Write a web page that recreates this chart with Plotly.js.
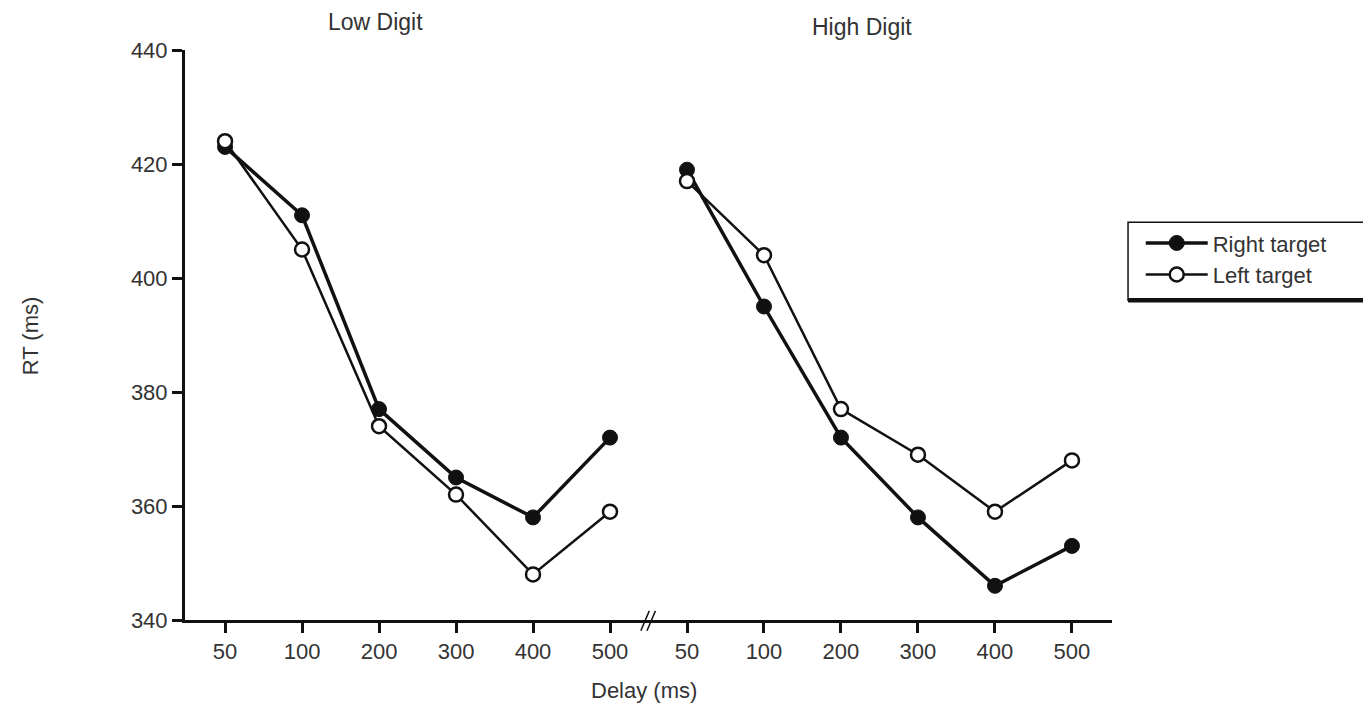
<!DOCTYPE html>
<html>
<head>
<meta charset="utf-8">
<script src="https://cdn.plot.ly/plotly-3.0.1.min.js"></script>
<style>html,body{margin:0;padding:0;background:#fff;}#chart{width:1363px;height:708px;}</style>
</head>
<body>
<div id="chart"></div>
<script>
// ---- data ----
const delays = ['50', '100', '200', '300', '400', '500'];
const panels = ['Low Digit', 'High Digit'];
const seriesNames = ['Right target', 'Left target'];
const lowRight  = [423, 411, 377, 365, 358, 372];
const lowLeft   = [424, 405, 374, 362, 348, 359];
const highRight = [419, 395, 372, 358, 346, 353];
const highLeft  = [417, 404, 377, 369, 359, 368];
const yTicks = [340, 360, 380, 400, 420, 440];

// ---- build ----
const n = delays.length;
const pos = g => delays.map((d, i) => g * n + i);
const FONT = 'Liberation Sans, Arial, Helvetica, sans-serif';
const INK = '#111';
const TXT = '#333';

const styles = [
  {line: {color: INK, width: 3.5}, marker: {size: 15, color: INK, line: {color: INK, width: 1}}},
  {line: {color: INK, width: 2.5}, marker: {size: 14, color: '#fff', line: {color: INK, width: 2.5}}}
];
const groups = [[lowRight, lowLeft], [highRight, highLeft]];
const traces = [];
groups.forEach((pair, g) => {
  pair.forEach((vals, s) => {
    traces.push({
      x: pos(g), y: vals, type: 'scatter', mode: 'lines+markers',
      name: seriesNames[s], legendgroup: seriesNames[s], showlegend: g === 0,
      line: styles[s].line, marker: Object.assign({symbol: 'circle'}, styles[s].marker),
      cliponaxis: false
    });
  });
});

const tickvals = [].concat(pos(0), pos(1));
const ticktext = [].concat(delays, delays);
const brk = n - 0.5;

const layout = {
  width: 1363, height: 708,
  margin: {l: 185, r: 251, t: 50, b: 88},
  paper_bgcolor: '#fff', plot_bgcolor: '#fff',
  font: {family: FONT, size: 22, color: TXT},
  showlegend: true,
  xaxis: {
    range: [-0.52, 2 * n - 0.48], tickvals: tickvals, ticktext: ticktext,
    showgrid: false, zeroline: false, showline: true, linecolor: INK, linewidth: 3,
    ticks: 'outside', ticklen: 10, tickwidth: 3, tickcolor: INK,
    tickfont: {size: 22, color: TXT}, fixedrange: true
  },
  yaxis: {
    range: [yTicks[0], yTicks[yTicks.length - 1]], tickvals: yTicks,
    showgrid: false, zeroline: false, showline: true, linecolor: INK, linewidth: 3,
    ticks: 'outside', ticklen: 10, tickwidth: 3, tickcolor: INK,
    tickfont: {size: 22, color: TXT}, fixedrange: true
  },
  legend: {
    x: 1.031, y: 0.698, xanchor: 'left', yanchor: 'top',
    borderwidth: 0, bgcolor: 'rgba(0,0,0,0)',
    font: {size: 22, color: TXT}, itemwidth: 62, tracegroupgap: 0
  },
  annotations: [
    {text: panels[0], xref: 'x', yref: 'paper', x: 1.95, y: 1.049, showarrow: false, font: {size: 23, color: TXT}, xanchor: 'center', yanchor: 'middle'},
    {text: panels[1], xref: 'x', yref: 'paper', x: 8.27, y: 1.040, showarrow: false, font: {size: 23, color: TXT}, xanchor: 'center', yanchor: 'middle'},
    {text: 'RT (ms)', xref: 'paper', yref: 'paper', x: -0.167, y: 0.498, textangle: -90, showarrow: false, font: {size: 22, color: TXT}, xanchor: 'center', yanchor: 'middle'},
    {text: 'Delay (ms)', xref: 'paper', yref: 'paper', x: 0.495, y: -0.124, showarrow: false, font: {size: 22, color: TXT}, xanchor: 'center', yanchor: 'middle'}
  ],
  shapes: [
    {type: 'line', xref: 'x', yref: 'paper', x0: brk - 0.10, x1: brk + 0.01, y0: -0.019, y1: 0.016, line: {color: INK, width: 1.5}},
    {type: 'line', xref: 'x', yref: 'paper', x0: brk - 0.02, x1: brk + 0.09, y0: -0.019, y1: 0.016, line: {color: INK, width: 1.5}},
    {type: 'rect', xref: 'paper', yref: 'paper', x0: 1.0173, x1: 1.32, y0: 0.561, y1: 0.698, line: {color: INK, width: 1.5}, fillcolor: 'rgba(0,0,0,0)'},
    {type: 'line', xref: 'paper', yref: 'paper', x0: 1.0173, x1: 1.32, y0: 0.561, y1: 0.561, line: {color: INK, width: 4.5}}
  ]
};

Plotly.newPlot('chart', traces, layout, {displayModeBar: false, staticPlot: true});
</script>
</body>
</html>
